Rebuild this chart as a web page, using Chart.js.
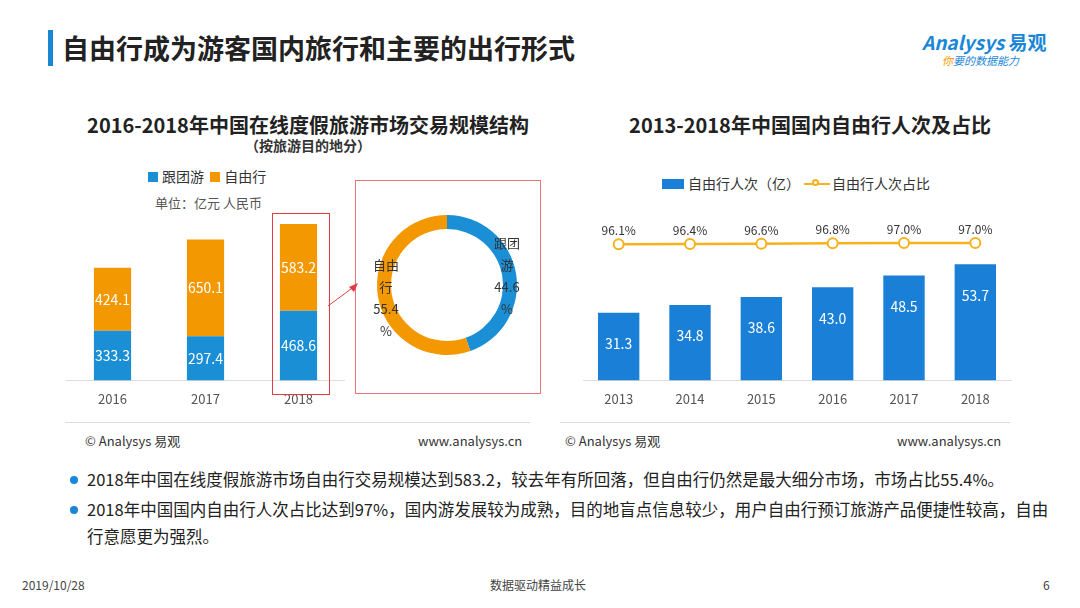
<!DOCTYPE html>
<html lang="zh">
<head>
<meta charset="UTF-8">
<title>自由行成为游客国内旅行和主要的出行形式</title>
<script src="https://cdn.jsdelivr.net/npm/chart.js"></script>
<style>
  body { margin:0; width:1080px; height:608px; background:#fff; font-family:"Noto Sans CJK SC","Noto Sans",sans-serif; color:#333; position:relative; overflow:hidden; }
  .abs { position:absolute; }
  .title { left:62px; top:28px; font-size:27px; font-weight:bold; color:#222; }
  .bar { left:48px; top:30px; width:5px; height:36px; background:#1a86d6; }
  .sub { font-size:20px; font-weight:bold; color:#222; text-align:center; }
  .small { font-size:13px; color:#333; }
  .leg span.b { display:inline-block; width:10px; height:10px; margin-right:4px; }
  .line { height:1px; background:#ddd; }
  .bul { font-size:16.5px; color:#222; line-height:27px; white-space:nowrap; }
  .bul i { display:inline-block; width:8px; height:8px; border-radius:4px; background:#1a86d6; margin-right:9px; vertical-align:2px; }
</style>
</head>
<body>
<div class="abs bar"></div>
<div class="abs title">自由行成为游客国内旅行和主要的出行形式</div>
<div class="abs" style="left:922px;top:28px;font-size:19px;color:#1a86d6;font-weight:bold;font-style:italic">Analysys <span style="font-style:normal">易观</span></div>
<div class="abs" style="left:942px;top:52px;font-size:11px;color:#1a86d6;font-style:italic"><span style="color:#f39800">你</span>要的数据能力</div>

<div class="abs sub" style="left:58px;top:110px;width:500px">2016-2018年中国在线度假旅游市场交易规模结构</div>
<div class="abs" style="left:58px;top:135px;width:500px;text-align:center;font-size:14px;font-weight:bold">（按旅游目的地分）</div>
<div class="abs sub" style="left:580px;top:110px;width:460px">2013-2018年中国国内自由行人次及占比</div>

<div class="abs small leg" style="left:148px;top:166px;font-size:14px"><span class="b" style="background:#1a8fd6"></span>跟团游 &nbsp;<span class="b" style="background:#f39800"></span>自由行</div>
<div class="abs small" style="left:155px;top:193px;color:#555">单位：亿元 人民币</div>
<div class="abs small leg" style="left:662px;top:173px;font-size:14px"><span class="b" style="background:#1a7fd6;width:22px"></span>自由行人次（亿）<span style="display:inline-block;width:26px;height:2px;background:#f6b21b;vertical-align:4px;margin:0 2px 0 4px;position:relative"><span style="position:absolute;left:8px;top:-4px;width:7px;height:7px;border:2px solid #f6b21b;border-radius:6px;background:#fff;box-sizing:border-box"></span></span>自由行人次占比</div>

<div class="abs" style="left:66px;top:150px;width:279px;height:260px"><canvas id="c1"></canvas></div>
<div class="abs" style="left:355px;top:180px;width:186px;height:214px;border:1px solid #e8747c;box-sizing:border-box"></div>
<div class="abs" style="left:272px;top:213px;width:58px;height:182px;border:1.5px solid #e33b45;box-sizing:border-box"></div>
<svg class="abs" style="left:325px;top:280px" width="36" height="30"><line x1="3" y1="26" x2="30" y2="6" stroke="#e33b45" stroke-width="1"/><polygon points="33,3 24,7 29,12" fill="#e33b45"/></svg>
<div class="abs" style="left:357px;top:195px;width:180px;height:180px"><canvas id="c2"></canvas></div>
<div class="abs" style="left:576px;top:150px;width:442px;height:260px"><canvas id="c3"></canvas></div>

<div class="abs line" style="left:65px;top:422px;width:465px"></div>
<div class="abs line" style="left:560px;top:422px;width:450px"></div>
<div class="abs small" style="left:85px;top:431px">© Analysys 易观</div>
<div class="abs small" style="left:418px;top:431px">www.analysys.cn</div>
<div class="abs small" style="left:565px;top:431px">© Analysys 易观</div>
<div class="abs small" style="left:897px;top:431px">www.analysys.cn</div>

<div class="abs bul" style="left:70px;top:466px"><i></i>2018年中国在线度假旅游市场自由行交易规模达到583.2，较去年有所回落，但自由行仍然是最大细分市场，市场占比55.4%。</div>
<div class="abs bul" style="left:70px;top:496px"><i></i>2018年中国国内自由行人次占比达到97%，国内游发展较为成熟，目的地盲点信息较少，用户自由行预订旅游产品便捷性较高，自由<br><span style="margin-left:17px">行意愿更为强烈。</span></div>
<div class="abs" style="left:22px;top:576px;font-size:12px;color:#444">2019/10/28</div>
<div class="abs" style="left:490px;top:576px;font-size:12px;color:#444">数据驱动精益成长</div>
<div class="abs" style="left:1043px;top:576px;font-size:12px;color:#444">6</div>

<script>
const years1 = ['2016', '2017', '2018'];
const groupTour = [333.3, 297.4, 468.6];
const freeTour = [424.1, 650.1, 583.2];
const shareLabels = ['跟团游', '自由行'];
const share2018 = [44.6, 55.4];
const years2 = ['2013', '2014', '2015', '2016', '2017', '2018'];
const freeTrips = [31.3, 34.8, 38.6, 43.0, 48.5, 53.7];
const freeShare = [96.1, 96.4, 96.6, 96.8, 97.0, 97.0];

Chart.defaults.font.family = '"Noto Sans CJK SC","Noto Sans",sans-serif';
Chart.defaults.color = '#444';

const inLabels = {
  id: 'inLabels',
  afterDatasetsDraw(chart, args, opts) {
    const ctx = chart.ctx;
    ctx.save();
    ctx.font = '14px "Noto Sans CJK SC",sans-serif';
    ctx.fillStyle = opts.color || '#fff';
    ctx.textAlign = 'center';
    ctx.textBaseline = 'middle';
    chart.data.datasets.forEach((ds, i) => {
      if (ds.type === 'line') return;
      chart.getDatasetMeta(i).data.forEach((el, j) => {
        const v = ds.data[j];
        const y = opts.mode === 'mid' ? (el.y + el.base) / 2 : el.y + 31;
        ctx.fillText(v.toFixed(1), el.x, y);
      });
    });
    ctx.restore();
  }
};

new Chart(document.getElementById('c1'), {
  type: 'bar',
  data: { labels: years1, datasets: [
    { label: '跟团游', data: groupTour, backgroundColor: '#1a8fd6', barPercentage: 0.4, categoryPercentage: 1 },
    { label: '自由行', data: freeTour, backgroundColor: '#f39800', barPercentage: 0.4, categoryPercentage: 1 }
  ]},
  options: {
    responsive: true, maintainAspectRatio: false, animation: false,
    layout: { padding: { top: 40 } },
    plugins: { legend: { display: false }, tooltip: { enabled: false }, inLabels: { mode: 'mid' } },
    scales: {
      x: { stacked: true, grid: { display: false }, border: { color: '#ddd' }, ticks: { font: { size: 13 }, color: '#555' } },
      y: { stacked: true, display: false, min: 0, max: 1280 }
    }
  },
  plugins: [inLabels]
});

new Chart(document.getElementById('c2'), {
  type: 'doughnut',
  data: { labels: shareLabels, datasets: [{ data: share2018, backgroundColor: ['#1a8fd6', '#f39800'], borderWidth: 0 }] },
  options: {
    responsive: true, maintainAspectRatio: false, animation: false, cutout: '80%',
    layout: { padding: 20 },
    plugins: { legend: { display: false }, tooltip: { enabled: false } }
  },
  plugins: [{
    id: 'donutText',
    afterDraw(chart) {
      const ctx = chart.ctx, a = chart.chartArea;
      const cx = (a.left + a.right) / 2, cy = (a.top + a.bottom) / 2;
      ctx.save();
      ctx.font = '13px "Noto Sans CJK SC",sans-serif';
      ctx.fillStyle = '#333';
      ctx.textAlign = 'center';
      const put = (lines, x, y) => lines.forEach((t, i) => ctx.fillText(t, x, y + i * 22));
      put(['跟团', '游', share2018[0].toFixed(1), '%'], cx + 60, cy - 37);
      put(['自由', '行', share2018[1].toFixed(1), '%'], cx - 61, cy - 15);
      ctx.restore();
    }
  }]
});

new Chart(document.getElementById('c3'), {
  data: { labels: years2, datasets: [
    { type: 'line', label: '自由行人次占比', data: freeShare, yAxisID: 'y2', borderColor: '#f6b21b', borderWidth: 2.5,
      pointBackgroundColor: '#fff', pointBorderColor: '#f6b21b', pointBorderWidth: 2, pointRadius: 5 },
    { type: 'bar', label: '自由行人次（亿）', data: freeTrips, yAxisID: 'y',
      backgroundColor: '#1a7fd6', barPercentage: 0.58, categoryPercentage: 1 }
  ]},
  options: {
    responsive: true, maintainAspectRatio: false, animation: false,
    layout: { padding: { top: 40 } },
    plugins: { legend: { display: false }, tooltip: { enabled: false }, inLabels: { mode: 'top' } },
    scales: {
      x: { grid: { display: false }, border: { color: '#ddd' }, ticks: { font: { size: 13 }, color: '#555' } },
      y: { display: false, min: 0, max: 88 },
      y2: { display: false, min: 0, max: 134.5 }
    }
  },
  plugins: [inLabels, {
    id: 'lineLabels',
    afterDatasetsDraw(chart) {
      const ctx = chart.ctx;
      ctx.save();
      ctx.font = '12px "Noto Sans CJK SC",sans-serif';
      ctx.fillStyle = '#333';
      ctx.textAlign = 'center';
      chart.getDatasetMeta(0).data.forEach((p, j) => ctx.fillText(freeShare[j].toFixed(1) + '%', p.x, p.y - 9));
      ctx.restore();
    }
  }]
});
</script>
</body>
</html>
